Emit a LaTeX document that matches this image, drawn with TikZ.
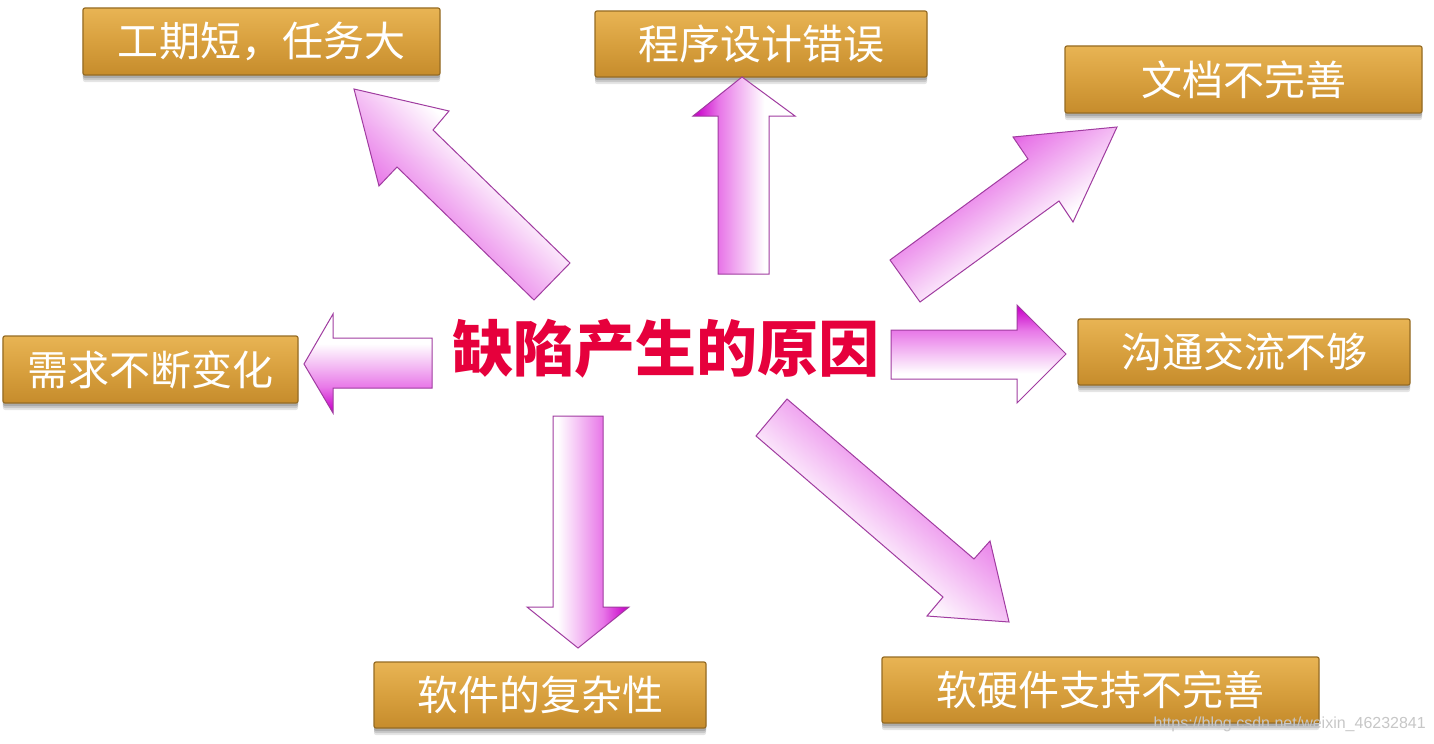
\documentclass[tikz,border=0pt]{standalone}
\usepackage{fontspec}
\newfontfamily\cjk{Noto Sans CJK SC}
\setsansfont{Liberation Sans}
\usetikzlibrary{shadows}
\definecolor{goldtop}{RGB}{232,180,84}
\definecolor{goldmid}{RGB}{216,160,62}
\definecolor{goldbot}{RGB}{198,140,44}
\definecolor{goldedge}{RGB}{150,108,36}
\definecolor{arrowline}{RGB}{160,60,160}
\definecolor{mag}{RGB}{200,0,200}
\definecolor{magB}{RGB}{232,120,232}
\definecolor{titlered}{RGB}{230,0,60}
\pgfdeclareverticalshading{magfade}{100bp}{color(0bp)=(mag); color(26bp)=(mag); color(38bp)=(magB); color(60bp)=(white); color(100bp)=(white)}
\tikzset{
  goldbox/.style={draw=goldedge, line width=1.2bp, rounded corners=2bp,
     top color=goldtop, bottom color=goldbot, middle color=goldmid,
     drop shadow={shadow xshift=0bp, shadow yshift=-7bp, opacity=0.10, fill=black},
     drop shadow={shadow xshift=0bp, shadow yshift=-5bp, opacity=0.12, fill=black},
     drop shadow={shadow xshift=0bp, shadow yshift=-3bp, opacity=0.15, fill=black},
     text=white, font=\cjk\fontsize{41bp}{41bp}\selectfont, inner sep=0pt},
  blockarrow/.style={draw=arrowline, line width=1bp, line join=miter, shading=magfade},
}
\begin{document}
\begin{tikzpicture}[x=1bp,y=-1bp]
\useasboundingbox[fill=white] (0,0) rectangle (1434,743);

% boxes
\node[goldbox, minimum width=357bp, minimum height=67bp] (b1) at (261.5,41.5) {工期短，任务大};
\node[goldbox, minimum width=332bp, minimum height=66bp] (b2) at (761,44) {程序设计错误};
\node[goldbox, minimum width=357bp, minimum height=67bp] (b3) at (1243.5,79.5) {文档不完善};
\node[goldbox, minimum width=332bp, minimum height=66bp] (b4) at (1244,352) {沟通交流不够};
\node[goldbox, minimum width=295bp, minimum height=67bp] (b5) at (150.5,369.5) {需求不断变化};
\node[goldbox, minimum width=332bp, minimum height=66bp] (b6) at (540,695) {软件的复杂性};
\node[goldbox, minimum width=437bp, minimum height=66bp] (b7) at (1100.5,690) {软硬件支持不完善};

% title
\node[text=titlered, font=\cjk\bfseries\fontsize{61bp}{61bp}\selectfont, inner sep=0pt] (t) at (666,349) {缺陷产生的原因};

% block arrows
\shade[blockarrow, shading angle=316] (354,89) -- (449,111) -- (433,130) -- (570,263) -- (534,300) -- (397,167) -- (379,186) -- cycle;
\shade[blockarrow, shading angle=270] (742,77) -- (795,116) -- (769,116) -- (769,274) -- (718,274) -- (718,116) -- (693,116) -- cycle;
\shade[blockarrow, shading angle=216] (1117,127) -- (1073,222) -- (1059,201) -- (920,302) -- (890,260) -- (1028,159) -- (1013,137) -- cycle;
\shade[blockarrow, shading angle=180] (1066,354) -- (1017,403) -- (1017,379) -- (891,379) -- (891,330) -- (1017,330) -- (1017,305) -- cycle;
\shade[blockarrow, shading angle=0] (304,364) -- (333,314) -- (333,338) -- (432,338) -- (432,388) -- (333,388) -- (333,413) -- cycle;
\shade[blockarrow, shading angle=90] (578,648) -- (629,607) -- (603,607) -- (603,416) -- (553,416) -- (553,607) -- (527,607) -- cycle;
\shade[blockarrow, shading angle=139] (1009,622) -- (927,616) -- (943,597) -- (756,436) -- (787,399) -- (974,559) -- (990,541) -- cycle;

% watermark
\node[font=\sffamily\fontsize{16bp}{16bp}\selectfont, text=black!22, anchor=east, inner sep=0pt] (wm) at (1426,724) {https://blog.csdn.net/weixin\_46232841};
\end{tikzpicture}
\end{document}
